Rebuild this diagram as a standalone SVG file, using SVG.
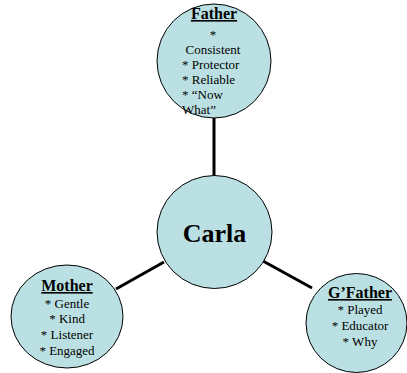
<svg xmlns="http://www.w3.org/2000/svg" width="407" height="373" viewBox="0 0 407 373">
<style>
.node{fill:#bbe0e3;stroke:#000;stroke-width:1}
.edge{stroke:#000;stroke-width:3;fill:none}
text{font-family:"Liberation Serif","Times New Roman",serif;fill:#000}
.title{font-size:16px;font-weight:bold;text-decoration:underline}
.item{font-size:13px}
.c{text-anchor:middle}
</style>
<rect width="407" height="373" fill="#fff"/>
<g id="connectors">
<line class="edge" x1="214" y1="118" x2="214" y2="176"/>
<line class="edge" x1="164" y1="262" x2="116" y2="289"/>
<line class="edge" x1="263" y1="261" x2="312" y2="288"/>
</g>
<g id="father">
<ellipse class="node" cx="214" cy="61" rx="57" ry="57"/>
<text class="title c" x="214" y="19">Father</text>
<text class="item c" x="213" y="39">*</text>
<text class="item" x="185.5" y="54">Consistent</text>
<text class="item" x="182" y="69">* Protector</text>
<text class="item" x="182" y="84">* Reliable</text>
<text class="item" x="182" y="99">* “Now</text>
<text class="item" x="182" y="114">What”</text>
</g>
<g id="carla">
<ellipse class="node" cx="214.5" cy="232" rx="57.5" ry="56.5"/>
<text class="c" x="214.5" y="242" font-size="26" font-weight="bold">Carla</text>
</g>
<g id="mother">
<ellipse class="node" cx="67" cy="316.5" rx="56" ry="51.5"/>
<text class="title c" x="67" y="291">Mother</text>
<text class="item c" x="67" y="307.5">* Gentle</text>
<text class="item c" x="67" y="323">* Kind</text>
<text class="item c" x="67" y="339">* Listener</text>
<text class="item c" x="67" y="354.5">* Engaged</text>
</g>
<g id="gfather">
<ellipse class="node" cx="356.5" cy="323" rx="50.5" ry="49.5"/>
<text class="title c" x="360" y="298">G’Father</text>
<text class="item c" x="360" y="314">* Played</text>
<text class="item c" x="360" y="330">* Educator</text>
<text class="item c" x="360" y="346">* Why</text>
</g>
</svg>
